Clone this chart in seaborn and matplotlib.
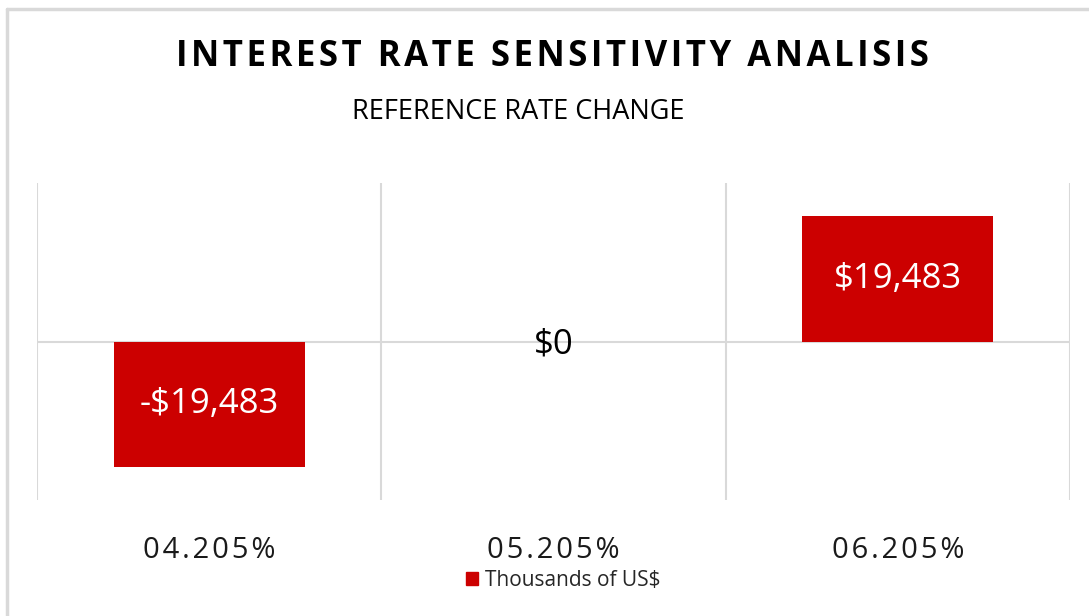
import numpy as np
import pandas as pd
import seaborn as sns
import matplotlib.pyplot as plt
from matplotlib.lines import Line2D
from matplotlib.patches import Patch

rates = ['04.205%', '05.205%', '06.205%']
impact = [-19483, 0, 19483]
series_name = 'Thousands of US$'
title = 'INTEREST RATE SENSITIVITY ANALISIS'
subtitle = 'REFERENCE RATE CHANGE'

BAR_RED = '#CC0000'
GRID = '#D9D9D9'
HAIR = '\u200a'


def spaced(text, n=1):
    return (HAIR * n).join(text)


def money(v):
    return f'-${abs(v):,.0f}' if v < 0 else f'${v:,.0f}'


def main():
    sns.set_theme(style='white')
    plt.rcParams['font.family'] = ['Open Sans', 'DejaVu Sans']

    df = pd.DataFrame({'rate': rates, 'impact': impact})

    fig = plt.figure(figsize=(10.89, 6.16), dpi=100)
    ax = fig.add_axes([37 / 1089, 1 - 500 / 616, (1070 - 37) / 1089, (500 - 183) / 616])
    sns.barplot(data=df, x='rate', y='impact', color=BAR_RED, width=0.555,
                saturation=1, linewidth=0, ax=ax, zorder=3)

    ax.set_xlim(-0.5, len(rates) - 0.5)
    ax.set_ylim(-24700, 24700)
    ax.set_xticks(np.arange(-0.5, len(rates)), minor=True)
    ax.grid(which='minor', axis='x', color=GRID, lw=1.5)
    ax.set_yticks([0])
    ax.grid(which='major', axis='y', color=GRID, lw=1.5)
    ax.grid(which='major', axis='x', visible=False)
    ax.tick_params(axis='both', which='both', length=0)
    ax.set_yticklabels([])
    ax.set_xticklabels([spaced(r, 1) for r in rates], fontsize=21, color='#1a1a1a')
    ax.tick_params(axis='x', pad=26)
    ax.set_xlabel('')
    ax.set_ylabel('')
    sns.despine(ax=ax, left=True, bottom=True)

    for i, v in enumerate(impact):
        ax.text(i, v / 2 if v else -400, money(v), ha='center', va='center', fontsize=25,
                color='white' if v != 0 else 'black', zorder=4)

    fig.text(552 / 1089, 1 - 57 / 616, spaced(title, 1), ha='center', va='center',
             fontsize=25, fontweight='bold', color='black')
    fig.text(518 / 1089, 1 - 112 / 616, subtitle, ha='center', va='center',
             fontsize=19.5, color='black')

    handle = Patch(facecolor=BAR_RED, edgecolor=BAR_RED)
    fig.legend([handle], [series_name], loc='center', bbox_to_anchor=(563 / 1089, 1 - 580 / 616),
               frameon=False, fontsize=15, handlelength=0.6, handleheight=0.6,
               handletextpad=0.3, borderaxespad=0)

    fig.add_artist(Line2D([7 / 1089, 7 / 1089], [0, 1 - 9 / 616], color=GRID, lw=2.5))
    fig.add_artist(Line2D([7 / 1089, 1], [1 - 9 / 616, 1 - 9 / 616], color=GRID, lw=2.5))

    fig.savefig('out.png', dpi=100, facecolor='white')


if __name__ == '__main__':
    main()
